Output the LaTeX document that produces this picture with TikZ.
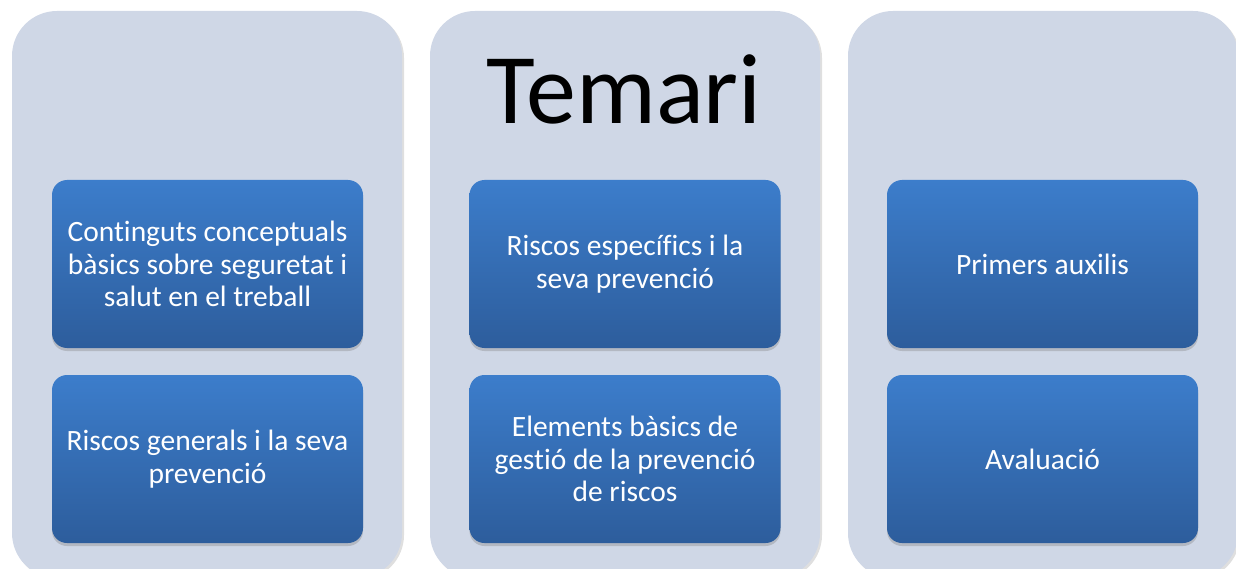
\documentclass[tikz,border=0pt]{standalone}
\usepackage{fontspec}
\setmainfont{Carlito}[Ligatures=NoCommon]
\usetikzlibrary{shadows}

\definecolor{panelfill}{HTML}{CFD7E6}
\definecolor{boxtop}{HTML}{3C7DCB}
\definecolor{boxbot}{HTML}{2D5D9C}

\tikzset{
  panel/.style={fill=panelfill,rounded corners=45pt,minimum width=390pt,minimum height=567pt,
    drop shadow={shadow xshift=2pt,shadow yshift=-2pt,opacity=0.25}},
  topic/.style={rounded corners=15pt,top color=boxtop,bottom color=boxbot,
    minimum width=311pt,minimum height=168pt,text=white,align=center,
    font=\fontsize{29.5}{32.5}\selectfont,
    drop shadow={shadow xshift=0pt,shadow yshift=-3pt,opacity=0.35}}
}
\tikzstyle{every node}=[inner sep=0pt]

\begin{document}
\begin{tikzpicture}[x=1pt,y=-1pt]
    \useasboundingbox (0,0) rectangle (1236,569);
    \clip (0,0) rectangle (1236,569);
    \node[panel] (P1) at (207,294.5) {};
    \node[panel] (P2) at (625,294.5) {};
    \node[panel] (P3) at (1043,294.5) {};
    \node[font=\fontsize{100}{110}\selectfont,anchor=base] (title) at (624,124) {Temari};
    \node[topic] (conceptes) at (207.5,264) {Continguts conceptuals\\bàsics sobre seguretat i\\salut en el treball};
    \node[topic] (generals) at (207.5,459) {Riscos generals i la seva\\prevenció};
    \node[topic] (especifics) at (625,264) {Riscos específics i la\\seva prevenció};
    \node[topic] (gestio) at (625,459) {Elements bàsics de\\gestió de la prevenció\\de riscos};
    \node[topic] (auxilis) at (1042.5,264) {Primers auxilis};
    \node[topic] (avaluacio) at (1042.5,459) {Avaluació};
\end{tikzpicture}
\end{document}
